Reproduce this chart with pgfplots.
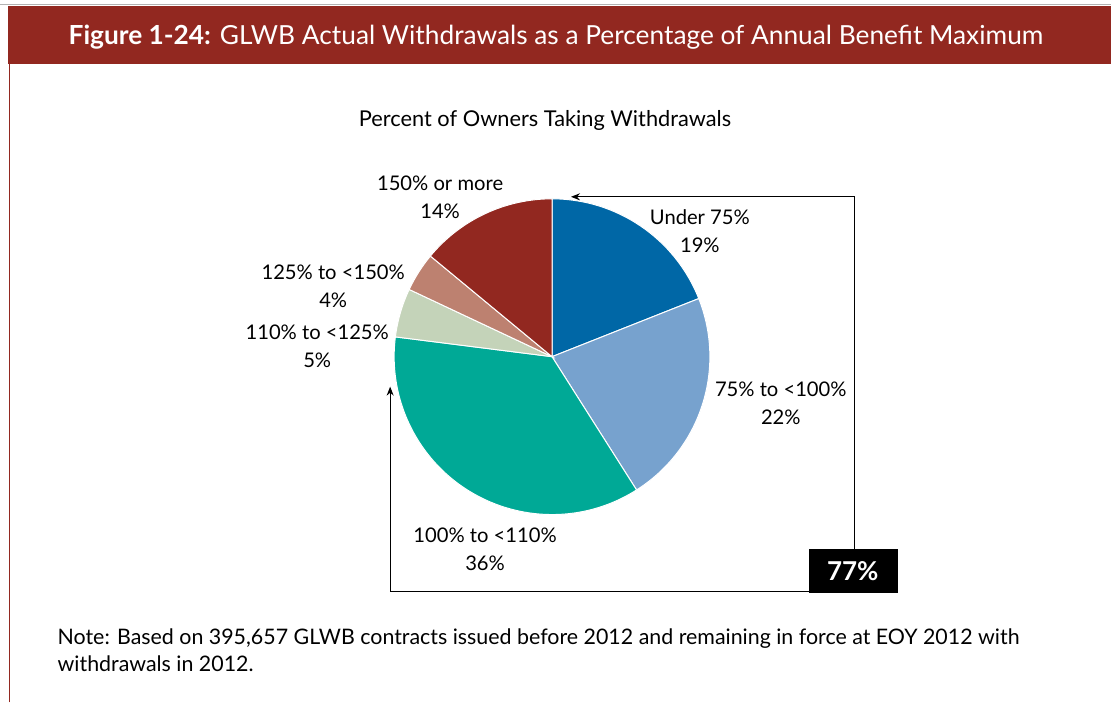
\documentclass[border=0pt]{standalone}
\usepackage{pgfplots}
\pgfplotsset{compat=1.18}
\usepackage{fontspec}
\setmainfont{Lato}
\usetikzlibrary{arrows.meta}
\definecolor{pieA}{HTML}{0067A6}
\definecolor{pieB}{HTML}{77A2CE}
\definecolor{pieC}{HTML}{00A996}
\definecolor{pieD}{HTML}{C4D3B9}
\definecolor{pieE}{HTML}{BD8170}
\definecolor{pieF}{HTML}{922820}
\definecolor{band}{HTML}{922820}
% share of owners (percent), clockwise from 12 o'clock
\def\pievalues{19/pieA, 22/pieB, 36/pieC, 5/pieD, 4/pieE, 14/pieF}
\begin{document}
\begin{tikzpicture}
\begin{axis}[
  x=1pt, y=1pt,
  xmin=0, xmax=1111, ymin=0, ymax=703,
  hide axis, clip=false,
]
\fill[white] (axis cs:0,0) rectangle (axis cs:1111,703);
% frame
\draw[gray!60, line width=1pt] (axis cs:0,698) -- (axis cs:1111,698);
\fill[band] (axis cs:8,639) rectangle (axis cs:1111,697);
\draw[band, line width=1.5pt] (axis cs:9,0) -- (axis cs:9,640);
\node[anchor=base west, text=white, inner sep=0pt, font=\fontsize{26.3}{30}\selectfont]
  at (axis cs:68,658) {\textbf{Figure 1-24:} GLWB Actual Withdrawals as a Percentage of Annual Benefit Maximum};
\node[anchor=base, inner sep=0pt, font=\fontsize{21.8}{26}\selectfont]
  at (axis cs:545,576) {Percent of Owners Taking Withdrawals};
% pie
\gdef\curang{90}
\foreach \v/\col in \pievalues {
  \pgfmathsetmacro\endang{\curang-3.6*\v}
  \edef\temp{\noexpand\fill[\col, draw=white, line width=1pt] (axis cs:552,346) -- ++(\curang:158pt) arc[start angle=\curang, end angle=\endang, radius=158pt] -- cycle;}
  \temp
  \xdef\curang{\endang}
}
% labels
\tikzset{lbl/.style={align=center, inner sep=0pt, font=\fontsize{20.2}{28}\selectfont}}
\node[lbl] at (axis cs:700,472) {Under 75\%\\19\%};
\node[lbl] at (axis cs:781,299) {75\% to <100\%\\22\%};
\node[lbl] at (axis cs:485,153) {100\% to <110\%\\36\%};
\node[lbl] at (axis cs:317,356) {110\% to <125\%\\5\%};
\node[lbl] at (axis cs:333,416) {125\% to <150\%\\4\%};
\node[lbl] at (axis cs:440,506) {150\% or more\\14\%};
% brackets
\draw[line width=1.2pt, -{Stealth[length=9pt,width=7pt]}] (axis cs:855,153) -- (axis cs:855,506) -- (axis cs:571,506);
\draw[line width=1.2pt, -{Stealth[length=9pt,width=7pt]}] (axis cs:810,111) -- (axis cs:390,111) -- (axis cs:390,316);
\fill[black] (axis cs:809,109) rectangle (axis cs:898,153);
\node[text=white, font=\fontsize{26}{30}\bfseries\selectfont, inner sep=0pt] at (axis cs:853,131) {77\%};
% note
\node[anchor=base west, inner sep=0pt, font=\fontsize{21.4}{27}\selectfont]
  at (axis cs:57,58) {Note: Based on 395,657 GLWB contracts issued before 2012 and remaining in force at EOY 2012 with};
\node[anchor=base west, inner sep=0pt, font=\fontsize{21.4}{27}\selectfont]
  at (axis cs:57,31) {withdrawals in 2012.};
\end{axis}
\end{tikzpicture}
\end{document}
